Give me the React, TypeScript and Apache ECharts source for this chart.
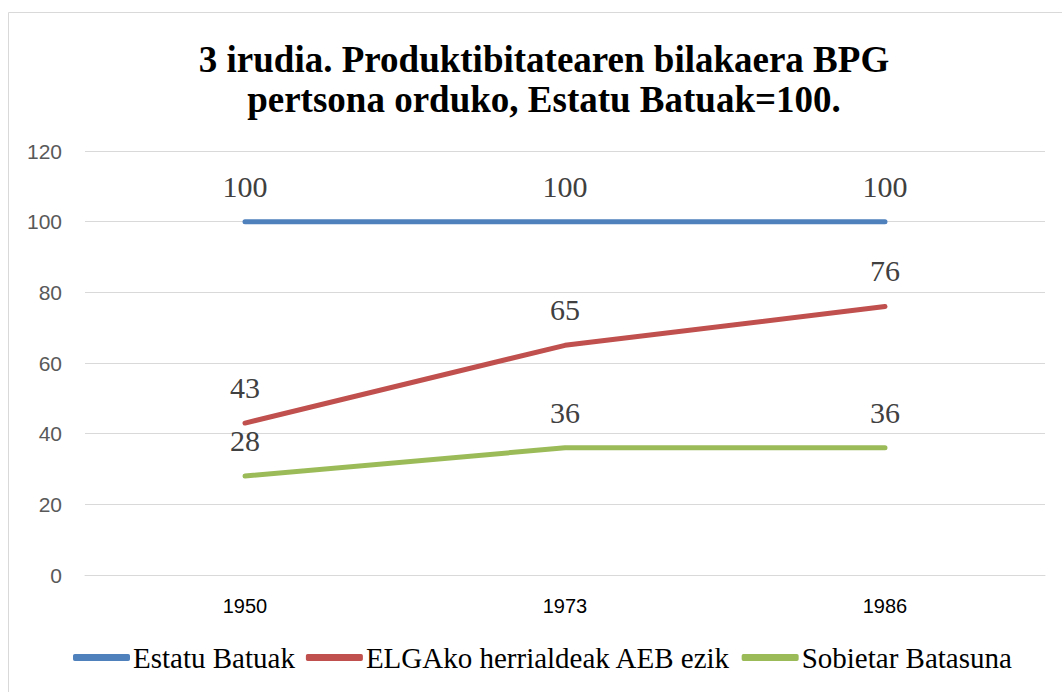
import React, { useEffect, useRef } from "react";
import * as echarts from "echarts";

const titleLines = ["3 irudia. Produktibitatearen bilakaera BPG", "pertsona orduko, Estatu Batuak=100."];
const years = ["1950", "1973", "1986"];
const seriesNames = ["Estatu Batuak", "ELGAko herrialdeak AEB ezik", "Sobietar Batasuna"];
const usa = [100, 100, 100];
const oecd = [43, 65, 76];
const ussr = [28, 36, 36];
const colors = ["#4F81BD", "#C0504D", "#9BBB59"];
const yTicks = { min: 0, max: 120, interval: 20 };

export default function App() {
  const ref = useRef<HTMLDivElement>(null);
  useEffect(() => {
    if (!ref.current) return;
    const chart = echarts.init(ref.current, null, { renderer: "svg" });
    const values = [usa, oecd, ussr];
    const serif = "Times New Roman, Liberation Serif, DejaVu Serif, serif";
    const sans = "Liberation Sans";
    chart.setOption({
      animation: false,
      backgroundColor: "#ffffff",
      title: {
        text: titleLines.join("\n"),
        left: 539,
        textAlign: "center",
        top: 34,
        textStyle: {
          fontFamily: serif,
          fontWeight: "bold",
          fontSize: 37,
          lineHeight: 40,
          color: "#000000",
        },
      },
      graphic: [
        {
          type: "rect",
          shape: { x: 8.5, y: 12.5, width: 1100, height: 700 },
          style: { fill: "none", stroke: "#D9D9D9", lineWidth: 1 },
          silent: true,
          z: -1,
        },
      ],
      grid: { left: 85, right: 17, top: 151, bottom: 117 },
      legend: {
        data: seriesNames.map((name, i) => ({
          name,
          itemStyle: { color: colors[i], opacity: 1 },
        })),
        left: 73,
        top: 643,
        padding: 0,
        icon: "roundRect",
        itemWidth: 57,
        itemHeight: 7,
        itemGap: 11,
        itemStyle: { opacity: 1 },
        textStyle: { fontFamily: serif, fontSize: 29, color: "#000000", padding: [0, 0, 0, -2] },
      },
      xAxis: {
        type: "category",
        data: years,
        boundaryGap: true,
        axisLine: { show: true, lineStyle: { color: "#D9D9D9" } },
        axisTick: { show: false },
        axisLabel: {
          margin: 21,
          fontSize: 20,
          color: "#000000",
          fontFamily: sans,
        },
      },
      yAxis: {
        type: "value",
        min: yTicks.min,
        max: yTicks.max,
        interval: yTicks.interval,
        axisLine: { show: false },
        axisTick: { show: false },
        splitLine: { lineStyle: { color: "#D9D9D9", width: 1 } },
        axisLabel: {
          margin: 23,
          fontSize: 21,
          color: "#595959",
          fontFamily: sans,
        },
      },
      series: seriesNames.map((name, i) => ({
        name,
        type: "line",
        data: values[i],
        showSymbol: true,
        symbol: "circle",
        symbolSize: 1,
        itemStyle: { color: colors[i], opacity: 0 },
        color: colors[i],
        lineStyle: { width: 5, color: colors[i], cap: "round" },
        label: {
          show: true,
          position: "top",
          distance: 20,
          fontFamily: serif,
          fontSize: 30,
          color: "#404040",
          opacity: 1,
        },
      })),
    });
    return () => chart.dispose();
  }, []);
  return (
    <div
      ref={ref}
      style={{ position: "absolute", left: 0, top: 0, width: 1062, height: 692 }}
    />
  );
}
